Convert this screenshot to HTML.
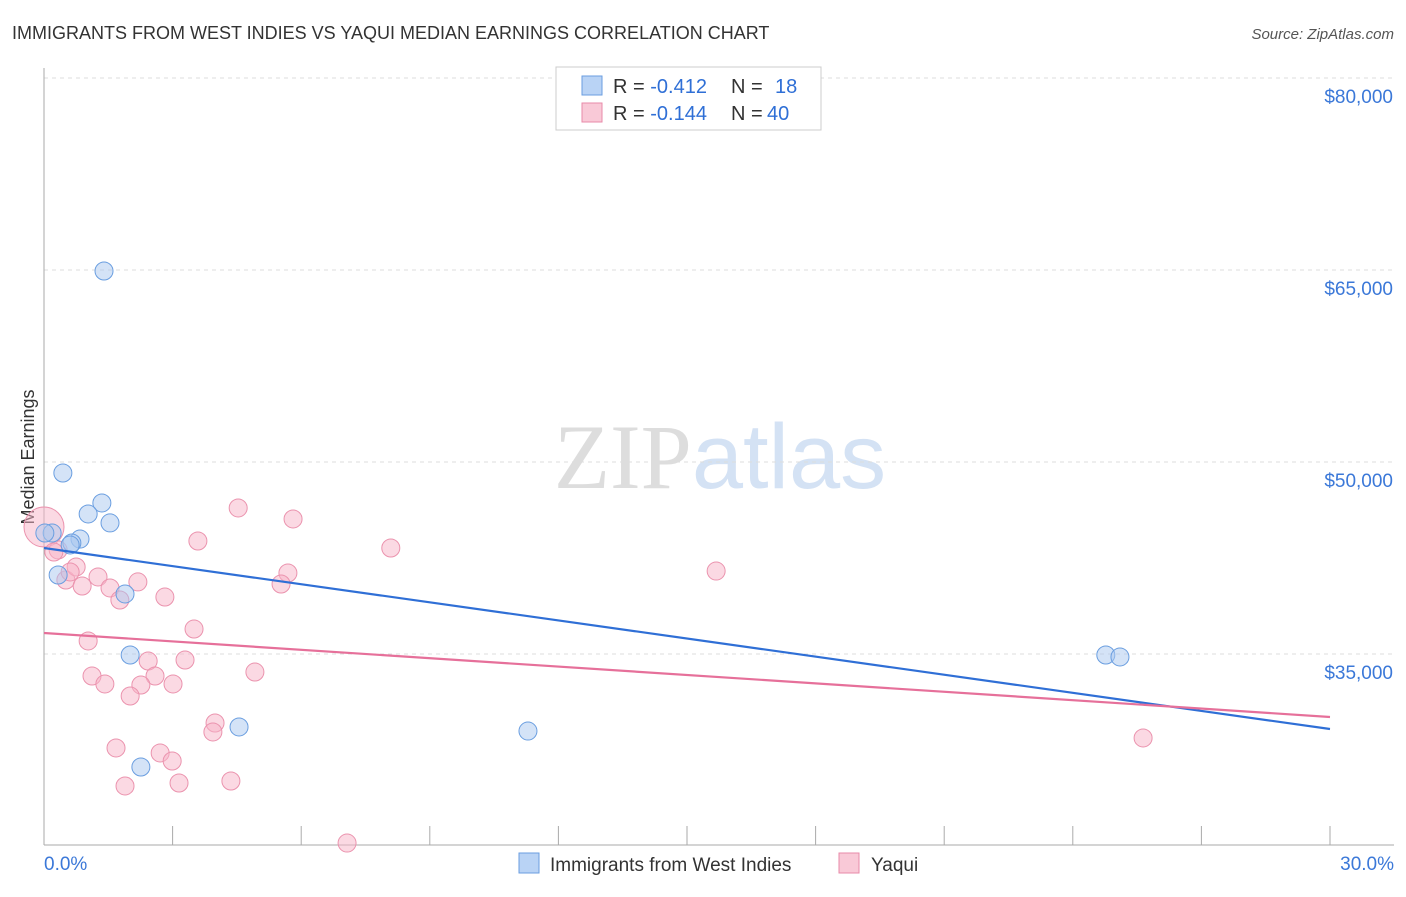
<!DOCTYPE html>
<html><head><meta charset="utf-8"><style>
body{margin:0;background:#fff;font-family:"Liberation Sans",sans-serif;}
</style></head><body>
<svg id="chart" width="1406" height="892" xmlns="http://www.w3.org/2000/svg" font-family="Liberation Sans, sans-serif">
<text x="12" y="39" font-size="18" fill="#333">IMMIGRANTS FROM WEST INDIES VS YAQUI MEDIAN EARNINGS CORRELATION CHART</text>
<text x="1394" y="39" font-size="15" fill="#555" text-anchor="end" font-style="italic">Source: ZipAtlas.com</text>
<text x="720" y="488" font-size="92" text-anchor="middle"><tspan fill="#ddd" font-family="Liberation Serif, serif">ZIP</tspan><tspan fill="#d4e2f4">atlas</tspan></text>
<text transform="translate(34,457) rotate(-90)" font-size="18" fill="#333" text-anchor="middle">Median Earnings</text>
<g id="grid"></g><g id="marks"></g>
<g>
<rect x="556" y="67" width="265" height="63" fill="#fff" stroke="#ccc"/>
<rect x="582" y="76" width="20" height="19" fill="#b9d3f5" stroke="#6a9ee0"/>
<rect x="582" y="103" width="20" height="19" fill="#f9c9d7" stroke="#e88aa8"/>
<text x="613" y="93" font-size="20" fill="#333">R = <tspan fill="#2f6fd6">-0.412</tspan></text>
<text x="731" y="93" font-size="20" fill="#333">N = </text>
<text x="775" y="93" font-size="20" fill="#2f6fd6">18</text>
<text x="613" y="120" font-size="20" fill="#333">R = <tspan fill="#2f6fd6">-0.144</tspan></text>
<text x="731" y="120" font-size="20" fill="#333">N = </text>
<text x="767" y="120" font-size="20" fill="#2f6fd6">40</text>
</g>
<g>
<rect x="519" y="853" width="20" height="20" fill="#b9d3f5" stroke="#6a9ee0"/>
<text x="550" y="871" font-size="19" fill="#333">Immigrants from West Indies</text>
<rect x="839" y="853" width="20" height="20" fill="#f9c9d7" stroke="#e88aa8"/>
<text x="871" y="871" font-size="19" fill="#333">Yaqui</text>
</g>
</svg>
<script>
const yTicks=[35000,50000,65000,80000];
const yTickLabels=["$35,000","$50,000","$65,000","$80,000"];
const xTicks=[0,3,6,9,12,15,18,21,24,27,30];
const blueX=[1.40,0.44,1.35,1.03,1.54,0.19,0.84,0.65,0.33,1.89,2.01,4.55,2.26,11.29,24.77,25.10,0.02,0.61];
const blueY=[64922,49140,46800,45940,45240,44450,43980,43670,41170,39690,34920,29300,26170,28980,34920,34770,44450,43520];
const pinkX=[0,0.33,0.51,0.75,0.61,0.89,1.26,1.54,1.77,2.19,2.82,3.59,4.53,5.81,5.69,5.53,8.09,15.68,1.03,3.50,1.12,1.42,2.43,2.59,3.29,3.01,2.26,2.01,4.92,3.99,3.94,1.68,2.71,2.99,1.89,3.15,4.36,7.07,25.64,0.23];
const pinkY=[44920,43130,40780,41800,41410,40310,41020,40160,39220,40630,39450,43830,46410,45550,41330,40470,43280,41480,36020,36950,33280,32660,34450,33280,34530,32660,32580,31720,33590,29610,28910,27660,27270,26640,24690,24920,25080,20230,28440,42970];
const blueTrend=[43280,29140];
const pinkTrend=[36640,30080];
const NS="http://www.w3.org/2000/svg";
const xs=v=>44+v/30*1286, ys=v=>78+(80000-v)*0.0128;
function mk(t,a,p){const e=document.createElementNS(NS,t);for(const k in a)e.setAttribute(k,a[k]);p.appendChild(e);return e;}
const g=document.getElementById('grid'), m=document.getElementById('marks');
yTicks.forEach((v,i)=>{
 const l=mk('line',{x1:44,x2:1394,y1:ys(v),y2:ys(v),stroke:'#ddd','stroke-dasharray':'4,4'},g);
 
 
 const t=mk('text',{x:1393,y:ys(v)+25,'font-size':19,fill:'#3b78d8','text-anchor':'end'},g);
 t.textContent=yTickLabels[i];
 
 
});
const ax=mk('line',{x1:44,x2:44,y1:68,y2:845,stroke:'#aaa'},g);


const bx=mk('line',{x1:44,x2:1394,y1:845,y2:845,stroke:'#aaa'},g);


xTicks.forEach(v=>{const t=mk('line',{x1:xs(v),x2:xs(v),y1:826,y2:845,stroke:'#aaa'},g);
 
 });
const x0=mk('text',{x:44,y:870,'font-size':19,fill:'#3b78d8'},g);x0.textContent='0.0%';


const x1=mk('text',{x:1394,y:870,'font-size':19,fill:'#3b78d8','text-anchor':'end'},g);x1.textContent='30.0%';


pinkX.forEach((v,i)=>{const c=mk('circle',{cx:xs(v),cy:ys(pinkY[i]),r:i==0?20:9,fill:'rgba(248,180,200,0.5)',stroke:'#eb93ae','stroke-width':1},m);
 
 });
blueX.forEach((v,i)=>{const c=mk('circle',{cx:xs(v),cy:ys(blueY[i]),r:9,fill:'rgba(170,200,240,0.5)',stroke:'#6a9ee0','stroke-width':1},m);
 
 });
const bl=mk('line',{x1:xs(0),x2:xs(30),y1:ys(blueTrend[0]),y2:ys(blueTrend[1]),stroke:'#2f6fd6','stroke-width':2.2},m);


const pl=mk('line',{x1:xs(0),x2:xs(30),y1:ys(pinkTrend[0]),y2:ys(pinkTrend[1]),stroke:'#e6709a','stroke-width':2.2},m);


</script>
</body></html>
